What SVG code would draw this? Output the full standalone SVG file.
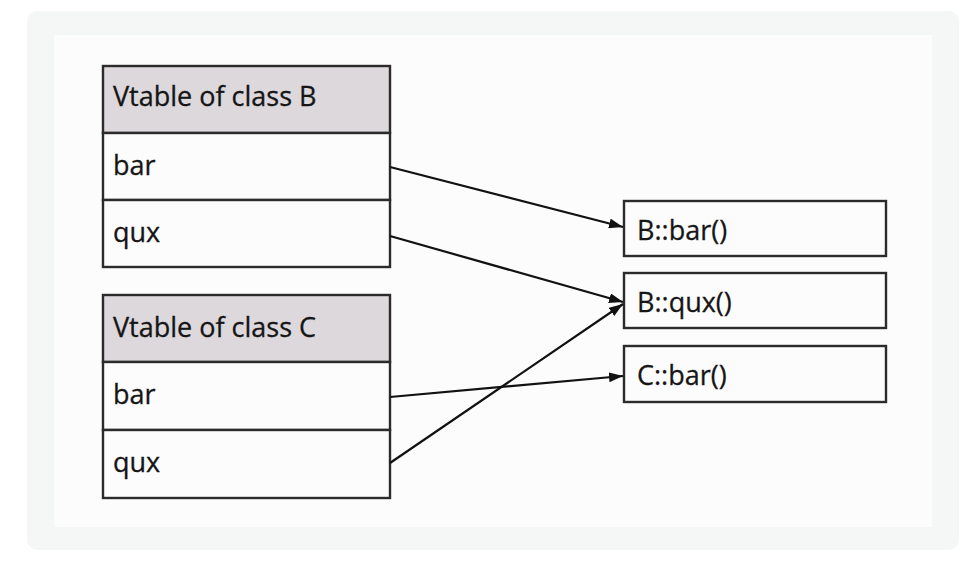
<svg xmlns="http://www.w3.org/2000/svg" width="974" height="562" viewBox="0 0 974 562">
<defs>
<style>
.bg{fill:#f5f6f6}
.panel{fill:#fdfcfd}
.hdr{fill:#dcd8dc;stroke:#2b2b2b;stroke-width:2.4}
.cell{fill:#fdfcfd;stroke:#2b2b2b;stroke-width:2.4}
.t{font-family:"Open Sans","Liberation Sans",sans-serif;font-size:27px;fill:#151515;stroke:#151515;stroke-width:0.3}
.conn{stroke:#111;stroke-width:2.2;fill:none;marker-end:url(#arr)}
</style>
<marker id="arr" viewBox="0 0 14 10" refX="14" refY="5" markerWidth="14" markerHeight="10" markerUnits="userSpaceOnUse" orient="auto">
<path d="M0,0 L14,5 L0,10 z" fill="#111"/>
</marker>
</defs>
<rect class="bg" x="27" y="11" width="932" height="539" rx="10"/>
<rect class="panel" x="54" y="35" width="878" height="492"/>
<g id="vtableB">
<rect class="hdr" x="103" y="66" width="287" height="67"/>
<rect class="cell" x="103" y="133" width="287" height="67"/>
<rect class="cell" x="103" y="200" width="287" height="67"/>
<text class="t" x="113" y="106">Vtable of class B</text>
<text class="t" x="113" y="175">bar</text>
<text class="t" x="113" y="242">qux</text>
</g>
<g id="vtableC">
<rect class="hdr" x="103" y="295" width="287" height="67"/>
<rect class="cell" x="103" y="362" width="287" height="68"/>
<rect class="cell" x="103" y="430" width="287" height="68"/>
<text class="t" x="113" y="337">Vtable of class C</text>
<text class="t" x="113" y="404">bar</text>
<text class="t" x="113" y="472">qux</text>
</g>
<g id="Bbar">
<rect class="cell" x="624" y="201" width="262" height="55"/>
<text class="t" x="637" y="240">B::bar()</text>
</g>
<g id="Bqux">
<rect class="cell" x="624" y="273" width="262" height="55"/>
<text class="t" x="637" y="312">B::qux()</text>
</g>
<g id="Cbar">
<rect class="cell" x="624" y="346" width="262" height="56"/>
<text class="t" x="637" y="385">C::bar()</text>
</g>
<g id="connectors">
<line class="conn" x1="390" y1="167" x2="623" y2="227"/>
<line class="conn" x1="390" y1="236" x2="623" y2="302"/>
<line class="conn" x1="390" y1="397" x2="623" y2="376"/>
<line class="conn" x1="390" y1="463" x2="623" y2="304"/>
</g>
</svg>
